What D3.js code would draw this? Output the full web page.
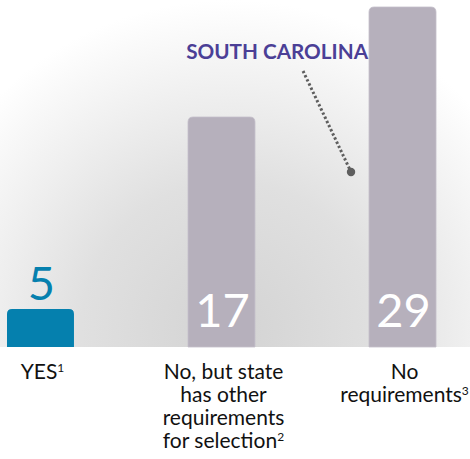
<!DOCTYPE html>
<html>
<head>
<meta charset="utf-8">
<script src="https://cdn.jsdelivr.net/npm/d3@7"></script>
<style>
  body { margin: 0; background: #fff; }
  svg { display: block; font-family: Lato, "Open Sans", sans-serif; }
</style>
</head>
<body>
<div id="chart"></div>
<script>
// data
const categories = ["yes", "other", "none"];
const values = [5, 17, 29];
const labelLines = [
  [["YES", "1"]],
  [["No, but state"], ["has other"], ["requirements"], ["for selection", "2"]],
  [["No"], ["requirements", "3"]]
];
const calloutText = "SOUTH CAROLINA";
const calloutIndex = 2;

const width = 470, height = 459;
const baseline = 347;

const svg = d3.select("#chart").append("svg")
    .attr("width", width)
    .attr("height", height);

// background glow
const defs = svg.append("defs");
const grad = defs.append("radialGradient")
    .attr("id", "bg")
    .attr("gradientUnits", "userSpaceOnUse")
    .attr("cx", 230).attr("cy", 330).attr("r", 330);
grad.append("stop").attr("offset", "0%").attr("stop-color", "#d3d3d3");
grad.append("stop").attr("offset", "45%").attr("stop-color", "#e0e0e0");
grad.append("stop").attr("offset", "100%").attr("stop-color", "#ffffff");

svg.append("rect")
    .attr("width", width).attr("height", baseline)
    .attr("fill", "url(#bg)");

const x = d3.scaleBand()
    .domain(categories)
    .range([7, 436])
    .paddingInner(0.63)
    .paddingOuter(0);

// the artwork is not drawn to a single linear scale, so the scale is polylinear
const y = d3.scaleLinear()
    .domain([0, 5, 17, 29])
    .range([baseline, 309, 117, 7]);

function topRounded(x0, y0, w, h, r) {
  return `M${x0},${y0 + h}V${y0 + r}Q${x0},${y0} ${x0 + r},${y0}` +
    `H${x0 + w - r}Q${x0 + w},${y0} ${x0 + w},${y0 + r}V${y0 + h}Z`;
}

svg.append("g")
  .selectAll("path")
  .data(values)
  .join("path")
    .attr("d", (d, i) => topRounded(x(categories[i]), y(d), x.bandwidth(), baseline - y(d), 5))
    .attr("fill", (d, i) => i === 0 ? "#0580ae" : "#b6b0bc")
    .attr("stroke", (d, i) => i === 0 ? "none" : "#c4bfca")
    .attr("stroke-width", 0.8);

// value labels
svg.append("g")
  .selectAll("text")
  .data(values)
  .join("text")
    .attr("x", (d, i) => x(categories[i]) + x.bandwidth() / 2 + 1)
    .attr("y", (d, i) => i === 0 ? y(d) - 9 : baseline - 20)
    .attr("text-anchor", "middle")
    .attr("font-size", 47)
    .attr("fill", (d, i) => i === 0 ? "#0580ae" : "#ffffff")
    .text(d => d);

// category labels, one text per line
const cat = svg.append("g");

labelLines.forEach((lines, i) => {
  const cx = x(categories[i]) + x.bandwidth() / 2 + 2;
  lines.forEach((ln, j) => {
    const t = cat.append("text")
        .attr("x", cx)
        .attr("y", 379 + j * 23)
        .attr("text-anchor", "middle")
        .attr("font-size", 21)
        .attr("fill", "#111");
    t.append("tspan").text(ln[0]);
    if (ln[1]) {
      t.append("tspan")
          .attr("font-size", 12)
          .attr("dy", -7)
          .text(ln[1]);
    }
  });
});

// callout
const bx = x(categories[calloutIndex]);
svg.append("text")
    .attr("x", bx - 1)
    .attr("y", 59)
    .attr("text-anchor", "end")
    .attr("font-size", 20.7)
    .attr("font-weight", "bold")
    .attr("fill", "#4b3f96")
    .text(calloutText);

svg.append("line")
    .attr("x1", bx - 66).attr("y1", 71)
    .attr("x2", bx - 18).attr("y2", 172)
    .attr("stroke", "#5e5e5e")
    .attr("stroke-width", 3)
    .attr("stroke-dasharray", "2.4,2.2");

svg.append("circle")
    .attr("cx", bx - 18).attr("cy", 172)
    .attr("r", 4.2)
    .attr("fill", "#5e5e5e");
</script>
</body>
</html>
